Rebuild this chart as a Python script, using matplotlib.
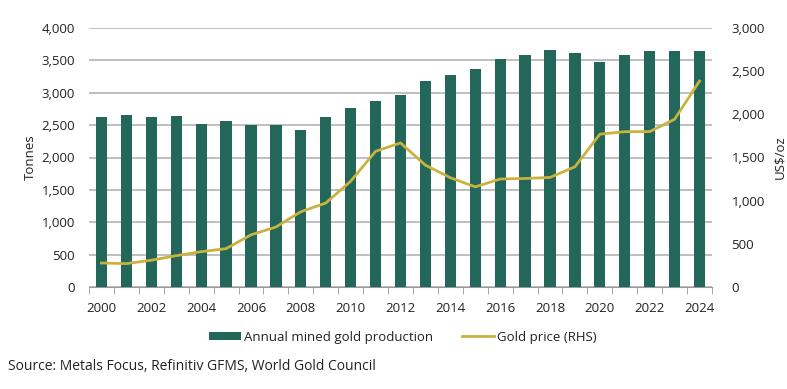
import matplotlib
matplotlib.use("Agg")
import matplotlib.pyplot as plt
import numpy as np

plt.rcParams['font.family'] = ['Open Sans', 'DejaVu Sans']

years = list(range(2000, 2025))
production = [2621, 2650, 2630, 2640, 2510, 2570, 2500, 2500, 2430, 2620,
              2760, 2880, 2960, 3180, 3270, 3360, 3520, 3580, 3660, 3610,
              3480, 3580, 3640, 3640, 3650]
gold_price = [278, 271, 310, 363, 409, 444, 604, 695, 872, 972,
              1225, 1572, 1669, 1411, 1266, 1160, 1251, 1257, 1269, 1393,
              1770, 1799, 1800, 1943, 2386]
tick_years = list(range(2000, 2025, 2))

bar_color = '#22675a'
line_color = '#c9b23e'
grid_color = '#b4b4b4'
text_color = '#222222'

fig = plt.figure(figsize=(7.87, 3.89), dpi=100)
ax = fig.add_axes([89/787, 1 - 287/389, (712-89)/787, (287-28)/389])
ax2 = ax.twinx()

x = np.arange(len(years))
ax.bar(x, production, width=0.45, color=bar_color, zorder=3,
       label='Annual mined gold production')
ax2.plot(x, gold_price, color=line_color, lw=2, zorder=4, label='Gold price (RHS)')

ax.set_xlim(-0.5, len(years) - 0.5)
ax.set_ylim(0, 4000)
ax2.set_ylim(0, 3000)
ax.set_yticks(range(0, 4001, 500))
ax.set_yticklabels([f'{v:,}' for v in range(0, 4001, 500)])
ax2.set_yticks(range(0, 3001, 500))
ax2.set_yticklabels([f'{v:,}' for v in range(0, 3001, 500)])

ax.grid(axis='y', color=grid_color, lw=1.2, zorder=0)
ax.set_axisbelow(True)
ax.set_zorder(1)
ax2.set_zorder(2)
ax.patch.set_visible(False)

for a in (ax, ax2):
    for s in ('top', 'left', 'right', 'bottom'):
        a.spines[s].set_visible(False)
ax.spines['bottom'].set_visible(True)
ax.spines['bottom'].set_color('#999999')

tick_pos = [years.index(y) for y in tick_years]
ax.set_xticks(tick_pos)
ax.set_xticklabels([str(y) for y in tick_years])
ax.set_xticks(np.arange(-0.5, len(years), 1.0), minor=True)
ax.tick_params(axis='x', which='major', length=0, pad=11, labelsize=9.5, colors=text_color)
ax.tick_params(axis='x', which='minor', length=5, color='#999999')
ax.tick_params(axis='y', length=0, labelsize=9.5, colors=text_color, pad=10)
ax2.tick_params(axis='y', length=0, labelsize=9.5, colors=text_color, pad=14)

ax.set_ylabel('Tonnes', fontsize=9.5, color=text_color, labelpad=3)
ax2.set_ylabel('US$/oz', fontsize=9.5, color=text_color, labelpad=6)

h1, l1 = ax.get_legend_handles_labels()
h2, l2 = ax2.get_legend_handles_labels()
fig.legend(h1 + h2, l1 + l2, loc='center', bbox_to_anchor=(403/787, 1 - 337/389),
           ncol=2, frameon=False, fontsize=9.5, handlelength=2.4, handleheight=0.6,
           columnspacing=2.2, handletextpad=0.25, labelcolor=text_color)

fig.text(8/787, 1 - 366/389, 'Source: Metals Focus, Refinitiv GFMS, World Gold Council',
         fontsize=10, color=text_color, va='center', ha='left')

fig.savefig('out.png', dpi=100)
